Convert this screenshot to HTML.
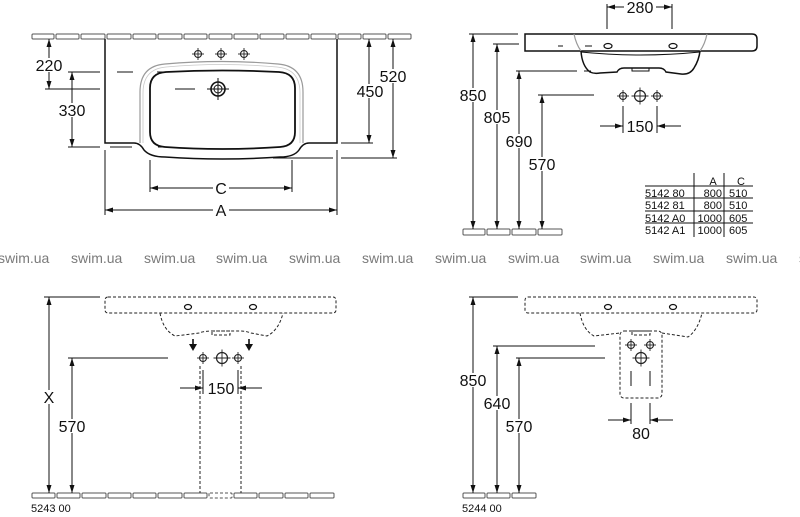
<!DOCTYPE html>
<html>
<head>
<meta charset="utf-8">
<style>
html,body{margin:0;padding:0;background:#fff;}
body{width:800px;height:517px;overflow:hidden;}
svg{display:block;}
text{font-family:"Liberation Sans",Arial,sans-serif;}
.d{font-size:16px;text-anchor:middle;fill:#111;}
.t{font-size:11px;fill:#111;}
.w{font-size:14px;fill:#7a7a7a;}
.l{stroke:#111;stroke-width:1;fill:none;}
.b{stroke:#111;stroke-width:1.5;fill:none;}
.g{stroke:#9a9a9a;stroke-width:1.2;fill:none;}
.ds{stroke:#222;stroke-width:1;fill:none;stroke-dasharray:3 2;}
.tile{fill:#fff;stroke:#555;stroke-width:1;}
.a{fill:#111;stroke:none;}
.bg{fill:#fff;}
</style>
</head>
<body>
<svg width="800" height="517" viewBox="0 0 800 517" xmlns="http://www.w3.org/2000/svg">
<defs>
  <g id="xs">
    <circle cx="0" cy="0" r="3.5" fill="none" stroke="#222" stroke-width="1.1"/>
    <line x1="-6" y1="0" x2="6" y2="0" stroke="#222" stroke-width="0.9"/>
    <line x1="0" y1="-6" x2="0" y2="6" stroke="#222" stroke-width="0.9"/>
  </g>
  <g id="xl">
    <circle cx="0" cy="0" r="5.5" fill="none" stroke="#222" stroke-width="1.2"/>
    <line x1="-8.5" y1="0" x2="8.5" y2="0" stroke="#222" stroke-width="0.9"/>
    <line x1="0" y1="-8.5" x2="0" y2="8.5" stroke="#222" stroke-width="0.9"/>
  </g>
</defs>

<!-- ================= TOP LEFT (plan) ================= -->
<g>
  <rect class="tile" x="32" y="34" width="22" height="5" rx="1"/>
  <rect class="tile" x="56" y="34" width="23" height="5" rx="1"/>
  <rect class="tile" x="81" y="34" width="24" height="5" rx="1"/>
  <rect class="tile" x="107" y="34" width="24" height="5" rx="1"/>
  <rect class="tile" x="133" y="34" width="23" height="5" rx="1"/>
  <rect class="tile" x="158" y="34" width="24" height="5" rx="1"/>
  <rect class="tile" x="184" y="34" width="23" height="5" rx="1"/>
  <rect class="tile" x="209" y="34" width="23" height="5" rx="1"/>
  <rect class="tile" x="234" y="34" width="24" height="5" rx="1"/>
  <rect class="tile" x="260" y="34" width="24" height="5" rx="1"/>
  <rect class="tile" x="286" y="34" width="23" height="5" rx="1"/>
  <rect class="tile" x="311" y="34" width="25" height="5" rx="1"/>
  <rect class="tile" x="338" y="34" width="23" height="5" rx="1"/>
  <rect class="tile" x="363" y="34" width="23" height="5" rx="1"/>
  <rect class="tile" x="388" y="34" width="23" height="5" rx="1"/>

  <!-- basin outline -->
  <path class="b" d="M105,39 V143 H134 Q140,143 144,150 Q150,157 165,157 Q222,161 280,157 Q294,157 299,150 Q303,143 309,143 H337 V39"/>
  <!-- rim -->
  <path class="g" d="M140,143 V92 Q140,66 165,64 Q222,59 278,64 Q303,66 303,92 V143"/>
  <path class="g" d="M143,143 V93 Q143,69 166,67 Q222,62 277,67 Q300,69 300,93 V143" style="stroke:#c8c8c8;stroke-width:0.8"/>
  <!-- bowl -->
  <path d="M166,72 Q222,69 279,72 Q295,73 295,88 V132 Q295,146 280,147 Q222,151 165,147 Q150,146 150,132 V88 Q150,73 166,72 Z" fill="none" stroke="#111" stroke-width="1.8"/>
  <!-- drain -->
  <circle cx="218" cy="89" r="7" fill="none" stroke="#111" stroke-width="1.6"/>
  <circle cx="218" cy="89" r="4" fill="none" stroke="#111" stroke-width="1"/>
  <line class="l" x1="207" y1="89" x2="229" y2="89"/>
  <line class="l" x1="218" y1="78" x2="218" y2="100"/>
  <!-- tap holes -->
  <use href="#xs" x="198" y="54"/>
  <use href="#xs" x="221" y="54"/>
  <use href="#xs" x="244" y="54"/>
  <!-- hidden dashes -->
  <line class="l" x1="117" y1="72" x2="133" y2="72"/>
  <line class="l" x1="157" y1="72" x2="173" y2="72"/>
  <line class="l" x1="175" y1="89" x2="195" y2="89"/>
  <line class="l" x1="110" y1="147" x2="132" y2="147"/>
  <line class="l" x1="158" y1="147" x2="168" y2="147"/>
  <!-- extension lines -->
  <line class="l" x1="45" y1="89" x2="100" y2="89"/>
  <line class="l" x1="68" y1="72" x2="100" y2="72"/>
  <line class="l" x1="68" y1="147" x2="100" y2="147"/>
  <line class="l" x1="341" y1="143" x2="373" y2="143"/>
  <line class="l" x1="273" y1="158" x2="333" y2="158"/>
  <line class="l" x1="341" y1="158" x2="397" y2="158"/>
  <line class="l" x1="105" y1="150" x2="105" y2="215"/>
  <line class="l" x1="337" y1="150" x2="337" y2="215"/>
  <line class="l" x1="150" y1="160" x2="150" y2="192"/>
  <line class="l" x1="292" y1="160" x2="292" y2="192"/>
  <!-- 220 -->
  <line class="l" x1="49" y1="39" x2="49" y2="89"/>
  <polygon class="a" points="49,39 46.5,47 51.5,47"/>
  <polygon class="a" points="49,89 46.5,81 51.5,81"/>
  <rect class="bg" x="35" y="58" width="28" height="14"/>
  <text class="d" x="49" y="71">220</text>
  <!-- 330 -->
  <line class="l" x1="72" y1="72" x2="72" y2="147"/>
  <polygon class="a" points="72,72 69.5,80 74.5,80"/>
  <polygon class="a" points="72,147 69.5,139 74.5,139"/>
  <rect class="bg" x="58" y="103" width="28" height="14"/>
  <text class="d" x="72" y="116">330</text>
  <!-- 450 -->
  <line class="l" x1="369" y1="39" x2="369" y2="143"/>
  <polygon class="a" points="369,39 366.5,47 371.5,47"/>
  <polygon class="a" points="369,143 366.5,135 371.5,135"/>
  <rect class="bg" x="356" y="84" width="28" height="14"/>
  <text class="d" x="370" y="97">450</text>
  <!-- 520 -->
  <line class="l" x1="393" y1="39" x2="393" y2="158"/>
  <polygon class="a" points="393,39 390.5,47 395.5,47"/>
  <polygon class="a" points="393,158 390.5,150 395.5,150"/>
  <rect class="bg" x="379" y="69" width="28" height="14"/>
  <text class="d" x="393" y="82">520</text>
  <!-- C -->
  <line class="l" x1="150" y1="188" x2="292" y2="188"/>
  <polygon class="a" points="150,188 158,185.5 158,190.5"/>
  <polygon class="a" points="292,188 284,185.5 284,190.5"/>
  <rect class="bg" x="213" y="181" width="16" height="14"/>
  <text class="d" x="221" y="194">C</text>
  <!-- A -->
  <line class="l" x1="105" y1="210" x2="337" y2="210"/>
  <polygon class="a" points="105,210 113,207.5 113,212.5"/>
  <polygon class="a" points="337,210 329,207.5 329,212.5"/>
  <rect class="bg" x="213" y="203" width="16" height="14"/>
  <text class="d" x="221" y="216">A</text>
</g>

<!-- ================= TOP RIGHT (side) ================= -->
<g>
  <rect class="tile" x="463" y="229" width="22" height="6" rx="1"/>
  <rect class="tile" x="487" y="229" width="23" height="6" rx="1"/>
  <rect class="tile" x="512" y="229" width="24" height="6" rx="1"/>
  <rect class="tile" x="538" y="229" width="24" height="6" rx="1"/>

  <!-- 280 -->
  <line class="l" x1="607" y1="4" x2="607" y2="29"/>
  <line class="l" x1="672" y1="4" x2="672" y2="29"/>
  <line class="l" x1="607" y1="7" x2="672" y2="7"/>
  <polygon class="a" points="607,7 615,4.5 615,9.5"/>
  <polygon class="a" points="672,7 664,4.5 664,9.5"/>
  <rect class="bg" x="624" y="0" width="32" height="15"/>
  <text class="d" x="640" y="13">280</text>

  <!-- basin side -->
  <path class="b" d="M525,34 H752 Q757,34 757,39 V46 Q757,51 752,51 H525 Z"/>
  <path class="g" d="M574,34 Q576,44 581,51"/>
  <path class="g" d="M707,34 Q705,44 700,51"/>
  <path class="l" d="M581,52 Q640,58 700,52"/>
  <path class="b" d="M581,51 Q582,66 590,72 Q594,74 600,73 L617,72 Q619,68 624,68 H659 Q664,68 666,72 L681,74 Q690,75 694,68 Q699,60 700,51"/>
  <rect class="l" x="632" y="68" width="17" height="3"/>
  <ellipse class="l" cx="608" cy="46" rx="4" ry="2.5" style="stroke-width:1.2"/>
  <ellipse class="l" cx="673" cy="46" rx="4" ry="2.5" style="stroke-width:1.2"/>
  <line class="l" x1="558" y1="46" x2="563" y2="46"/>
  <line class="l" x1="585" y1="46" x2="592" y2="46"/>
  <line class="l" x1="584" y1="71" x2="591" y2="71"/>

  <!-- ext lines -->
  <line class="l" x1="469" y1="34" x2="518" y2="34"/>
  <line class="l" x1="493" y1="44" x2="519" y2="44"/>
  <line class="l" x1="516" y1="71" x2="577" y2="71"/>
  <line class="l" x1="538" y1="95" x2="594" y2="95"/>

  <!-- 850 -->
  <line class="l" x1="473" y1="34" x2="473" y2="229"/>
  <polygon class="a" points="473,34 470.5,42 475.5,42"/>
  <polygon class="a" points="473,229 470.5,221 475.5,221"/>
  <rect class="bg" x="459" y="88" width="28" height="14"/>
  <text class="d" x="473" y="101">850</text>
  <!-- 805 -->
  <line class="l" x1="497" y1="44" x2="497" y2="229"/>
  <polygon class="a" points="497,44 494.5,52 499.5,52"/>
  <polygon class="a" points="497,229 494.5,221 499.5,221"/>
  <rect class="bg" x="483" y="110" width="28" height="14"/>
  <text class="d" x="497" y="123">805</text>
  <!-- 690 -->
  <line class="l" x1="519" y1="71" x2="519" y2="229"/>
  <polygon class="a" points="519,71 516.5,79 521.5,79"/>
  <polygon class="a" points="519,229 516.5,221 521.5,221"/>
  <rect class="bg" x="505" y="134" width="28" height="14"/>
  <text class="d" x="519" y="147">690</text>
  <!-- 570 -->
  <line class="l" x1="542" y1="95" x2="542" y2="229"/>
  <polygon class="a" points="542,95 539.5,103 544.5,103"/>
  <polygon class="a" points="542,229 539.5,221 544.5,221"/>
  <rect class="bg" x="528" y="157" width="28" height="14"/>
  <text class="d" x="542" y="170">570</text>

  <!-- supplies -->
  <use href="#xs" x="623" y="96"/>
  <use href="#xl" x="640" y="96"/>
  <use href="#xs" x="657" y="96"/>
  <!-- 150 -->
  <line class="l" x1="623" y1="106" x2="623" y2="133"/>
  <line class="l" x1="657" y1="106" x2="657" y2="133"/>
  <line class="l" x1="600" y1="126" x2="623" y2="126"/>
  <line class="l" x1="657" y1="126" x2="681" y2="126"/>
  <polygon class="a" points="623,126 615,123.5 615,128.5"/>
  <polygon class="a" points="657,126 665,123.5 665,128.5"/>
  <text class="d" x="640" y="132">150</text>

  <!-- table -->
  <line class="l" x1="694" y1="173" x2="694" y2="237"/>
  <line class="l" x1="724" y1="173" x2="724" y2="237"/>
  <line class="l" x1="645" y1="186" x2="753" y2="186"/>
  <line class="l" x1="645" y1="198" x2="753" y2="198"/>
  <line class="l" x1="645" y1="211" x2="753" y2="211"/>
  <line class="l" x1="645" y1="223" x2="753" y2="223"/>
  <text class="t" x="713" y="185" text-anchor="middle">A</text>
  <text class="t" x="741" y="185" text-anchor="middle">C</text>
  <text class="t" x="645" y="197">5142 80</text>
  <text class="t" x="722" y="197" text-anchor="end">800</text>
  <text class="t" x="729" y="197">510</text>
  <text class="t" x="645" y="209">5142 81</text>
  <text class="t" x="722" y="209" text-anchor="end">800</text>
  <text class="t" x="729" y="209">510</text>
  <text class="t" x="645" y="222">5142 A0</text>
  <text class="t" x="722" y="222" text-anchor="end">1000</text>
  <text class="t" x="729" y="222">605</text>
  <text class="t" x="645" y="234">5142 A1</text>
  <text class="t" x="722" y="234" text-anchor="end">1000</text>
  <text class="t" x="729" y="234">605</text>
</g>

<!-- ================= WATERMARK ================= -->
<g>
  <text class="w" x="-2" y="263">swim.ua</text>
  <text class="w" x="71" y="263">swim.ua</text>
  <text class="w" x="144" y="263">swim.ua</text>
  <text class="w" x="216" y="263">swim.ua</text>
  <text class="w" x="289" y="263">swim.ua</text>
  <text class="w" x="362" y="263">swim.ua</text>
  <text class="w" x="435" y="263">swim.ua</text>
  <text class="w" x="508" y="263">swim.ua</text>
  <text class="w" x="580" y="263">swim.ua</text>
  <text class="w" x="653" y="263">swim.ua</text>
  <text class="w" x="726" y="263">swim.ua</text>
  <text class="w" x="799" y="263">swim.ua</text>
</g>

<!-- ================= BOTTOM LEFT ================= -->
<g>
  <rect class="tile" x="32" y="493" width="23" height="5" rx="1"/>
  <rect class="tile" x="57" y="493" width="23" height="5" rx="1"/>
  <rect class="tile" x="82" y="493" width="24" height="5" rx="1"/>
  <rect class="tile" x="108" y="493" width="23" height="5" rx="1"/>
  <rect class="tile" x="133" y="493" width="23" height="5" rx="1"/>
  <rect class="tile" x="158" y="493" width="24" height="5" rx="1"/>
  <rect class="tile" x="184" y="493" width="23" height="5" rx="1"/>
  <rect class="tile" x="209" y="493" width="23" height="5" rx="1" style="stroke-dasharray:3 2"/>
  <rect class="tile" x="234" y="493" width="23" height="5" rx="1"/>
  <rect class="tile" x="259" y="493" width="24" height="5" rx="1"/>
  <rect class="tile" x="285" y="493" width="23" height="5" rx="1"/>
  <rect class="tile" x="310" y="493" width="24" height="5" rx="1"/>

  <rect class="ds" x="105" y="297" width="231" height="16" rx="3"/>
  <ellipse class="l" cx="188" cy="307" rx="3.5" ry="2.5" style="stroke-width:1.2"/>
  <ellipse class="l" cx="253" cy="307" rx="3.5" ry="2.5" style="stroke-width:1.2"/>
  <path class="ds" d="M160,313 Q163,330 175,336 L199,333 Q204,331 212,331 L240,331 Q246,331 251,333 L267,336 Q279,330 283,313"/>
  <rect class="ds" x="212" y="331" width="18" height="4"/>
  <!-- down arrows -->
  <line x1="193" y1="339" x2="193" y2="345" stroke="#111" stroke-width="1.6"/>
  <polygon class="a" points="189,344 197,344 193,351"/>
  <line x1="249" y1="339" x2="249" y2="345" stroke="#111" stroke-width="1.6"/>
  <polygon class="a" points="245,344 253,344 249,351"/>
  <!-- supplies -->
  <use href="#xs" x="203" y="358"/>
  <use href="#xl" x="222" y="358"/>
  <use href="#xs" x="238" y="358"/>
  <!-- pedestal -->
  <line class="ds" x1="200" y1="366" x2="200" y2="493"/>
  <line class="ds" x1="241" y1="366" x2="241" y2="493"/>
  <line class="l" x1="203" y1="370" x2="203" y2="394"/>
  <line class="l" x1="238" y1="370" x2="238" y2="394"/>
  <!-- 150 -->
  <line class="l" x1="180" y1="388" x2="203" y2="388"/>
  <line class="l" x1="238" y1="388" x2="262" y2="388"/>
  <polygon class="a" points="203,388 195,385.5 195,390.5"/>
  <polygon class="a" points="238,388 246,385.5 246,390.5"/>
  <rect class="bg" x="207" y="381" width="28" height="14"/>
  <text class="d" x="221" y="394">150</text>
  <!-- X -->
  <line class="l" x1="44" y1="297" x2="100" y2="297"/>
  <line class="l" x1="49" y1="297" x2="49" y2="493"/>
  <polygon class="a" points="49,297 46.5,305 51.5,305"/>
  <polygon class="a" points="49,493 46.5,485 51.5,485"/>
  <rect class="bg" x="41" y="390" width="16" height="14"/>
  <text class="d" x="49" y="403">X</text>
  <!-- 570 -->
  <line class="l" x1="68" y1="358" x2="168" y2="358"/>
  <line class="l" x1="72" y1="358" x2="72" y2="493"/>
  <polygon class="a" points="72,358 69.5,366 74.5,366"/>
  <polygon class="a" points="72,493 69.5,485 74.5,485"/>
  <rect class="bg" x="58" y="419" width="28" height="14"/>
  <text class="d" x="72" y="432">570</text>

  <text class="t" x="31" y="512">5243 00</text>
</g>

<!-- ================= BOTTOM RIGHT ================= -->
<g>
  <rect class="tile" x="463" y="493" width="22" height="5" rx="1"/>
  <rect class="tile" x="487" y="493" width="23" height="5" rx="1"/>
  <rect class="tile" x="512" y="493" width="24" height="5" rx="1"/>

  <rect class="ds" x="525" y="297" width="232" height="16" rx="3"/>
  <ellipse class="l" cx="608" cy="307" rx="3.5" ry="2.5" style="stroke-width:1.2"/>
  <ellipse class="l" cx="673" cy="307" rx="3.5" ry="2.5" style="stroke-width:1.2"/>
  <path class="ds" d="M580,313 Q583,330 594,336 L620,333"/>
  <path class="ds" d="M662,333 L688,337 Q698,330 702,313"/>
  <rect class="ds" x="620" y="331" width="42" height="67" rx="4"/>
  <rect class="ds" x="632" y="331" width="18" height="4"/>
  <use href="#xs" x="631" y="345"/>
  <use href="#xs" x="650" y="345"/>
  <use href="#xl" x="641" y="358"/>
  <line class="l" x1="631" y1="371" x2="631" y2="386"/>
  <line class="l" x1="650" y1="371" x2="650" y2="386"/>
  <!-- 80 -->
  <line class="l" x1="631" y1="403" x2="631" y2="424"/>
  <line class="l" x1="650" y1="403" x2="650" y2="424"/>
  <line class="l" x1="608" y1="420" x2="631" y2="420"/>
  <line class="l" x1="650" y1="420" x2="673" y2="420"/>
  <polygon class="a" points="631,420 623,417.5 623,422.5"/>
  <polygon class="a" points="650,420 658,417.5 658,422.5"/>
  <text class="d" x="641" y="439">80</text>
  <!-- 850 -->
  <line class="l" x1="469" y1="297" x2="518" y2="297"/>
  <line class="l" x1="473" y1="297" x2="473" y2="493"/>
  <polygon class="a" points="473,297 470.5,305 475.5,305"/>
  <polygon class="a" points="473,493 470.5,485 475.5,485"/>
  <rect class="bg" x="459" y="373" width="28" height="14"/>
  <text class="d" x="473" y="386">850</text>
  <!-- 640 -->
  <line class="l" x1="493" y1="346" x2="595" y2="346"/>
  <line class="l" x1="497" y1="346" x2="497" y2="493"/>
  <polygon class="a" points="497,346 494.5,354 499.5,354"/>
  <polygon class="a" points="497,493 494.5,485 499.5,485"/>
  <rect class="bg" x="483" y="396" width="28" height="14"/>
  <text class="d" x="497" y="409">640</text>
  <!-- 570 -->
  <line class="l" x1="516" y1="358" x2="605" y2="358"/>
  <line class="l" x1="519" y1="358" x2="519" y2="493"/>
  <polygon class="a" points="519,358 516.5,366 521.5,366"/>
  <polygon class="a" points="519,493 516.5,485 521.5,485"/>
  <rect class="bg" x="505" y="419" width="28" height="14"/>
  <text class="d" x="519" y="432">570</text>

  <text class="t" x="462" y="512">5244 00</text>
</g>
</svg>
</body>
</html>
